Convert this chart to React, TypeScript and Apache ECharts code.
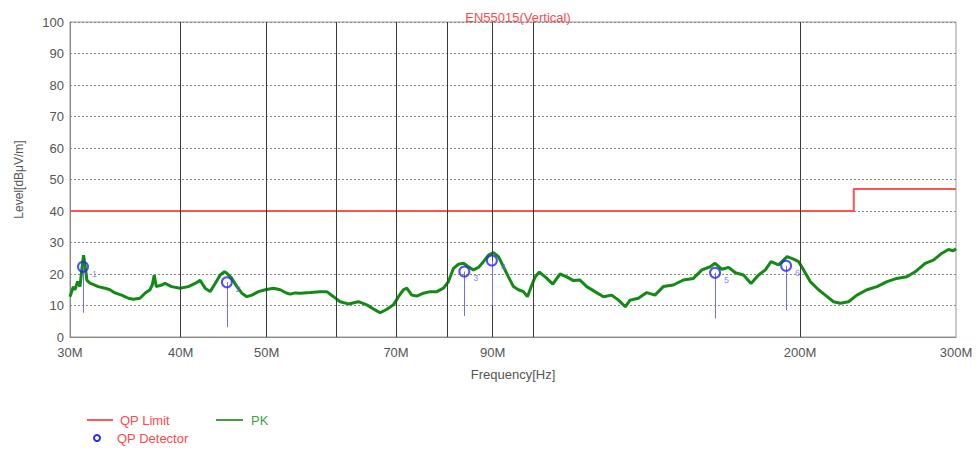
import React, { useEffect, useRef } from "react";
import * as echarts from "echarts";

const TITLE = "EN55015(Vertical)";
const X_NAME = "Frequency[Hz]";
const Y_NAME = "Level[dBμV/m]";
const X_MIN = 30;
const X_MAX = 300;
const X_LABEL_VALUES = [30, 40, 50, 70, 90, 200, 300];
const X_GRID_VALUES = [40, 50, 60, 70, 80, 90, 100, 200];

const LIMIT_FREQ = [30, 230, 230, 300];
const LIMIT_LEVEL = [40, 40, 47, 47];

const PK_FREQ = [
  30.0, 30.26, 30.39, 30.6, 30.79, 30.93, 31.08, 31.24, 31.35, 31.6, 32.0, 32.28, 32.85, 33.28, 33.72,
  34.31, 34.91, 35.36, 35.98, 36.45, 36.93, 37.15, 37.34, 37.54, 38.07, 38.4, 39.07, 39.93, 40.8, 41.53,
  42.07, 42.62, 43.18, 43.75, 44.32, 44.82, 45.1, 45.69, 46.29, 46.89, 47.5, 48.13, 48.96, 49.82, 50.91,
  51.8, 52.72, 53.17, 53.87, 54.57, 55.99, 57.47, 58.48, 59.5, 60.53, 61.85, 63.48, 64.88, 66.3, 67.17,
  68.35, 69.53, 70.44, 71.36, 71.99, 72.93, 73.89, 75.17, 76.49, 77.84, 79.18, 80.22, 81.27, 82.33, 83.41,
  84.5, 85.6, 86.72, 87.86, 89.01, 90.17, 91.35, 92.54, 93.75, 94.98, 96.22, 97.47, 98.49, 99.62, 100.5,
  101.6, 103.6, 105.2, 107.2, 109.1, 111.0, 112.9, 114.9, 117.4, 120.0, 122.6, 124.8, 127.0, 128.6, 131.4,
  134.3, 137.2, 140.2, 143.9, 147.7, 151.6, 155.0, 158.4, 160.4, 163.3, 166.1, 169.1, 172.7, 176.1, 179.6,
  182.8, 185.5, 189.2, 193.4, 196.7, 199.3, 201.9, 205.4, 209.9, 213.6, 218.2, 222.1, 226.9, 231.9, 238.0,
  244.3, 250.8, 257.2, 264.0, 269.8, 276.9, 282.9, 289.2, 294.2, 297.9, 300.0,
];
const PK_LEVEL = [
  12.8, 16, 15, 17.6, 16, 21.3, 26, 21.3, 18, 17.1, 16.5, 16, 15.5, 15, 14,
  13.3, 12.3, 12, 12.3, 13.9, 15, 16.5, 19.7, 16, 16.5, 17, 16, 15.5, 16, 17,
  18, 15.5, 14.4, 17, 19.7, 20.7, 20.2, 18.6, 16, 13.9, 12.8, 13.3, 14.4, 15, 15.5,
  15, 13.9, 13.6, 14.0, 13.9, 14.1, 14.4, 14.4, 12.8, 11.2, 10.5, 11.2, 10.2, 8.6, 7.7,
  8.8, 10.2, 12.8, 15, 15.5, 13.3, 13, 13.9, 14.4, 14.4, 15.5, 17.6, 21.8, 23.1, 23.4,
  22.3, 21.3, 22.1, 23.9, 26, 26.8, 25.5, 22.3, 19.1, 16, 15, 14.4, 12.8, 16.5, 19.1,
  20.6, 18.6, 16.8, 20, 19.1, 17.9, 18.1, 16, 14.4, 12.8, 13.3, 11.7, 9.6, 11.7, 12.3,
  14.1, 13.3, 16, 16.5, 18.1, 18.6, 21.3, 22.3, 23.4, 21.5, 22.1, 20.4, 19.7, 17, 19.7,
  21.3, 23.9, 22.9, 25.5, 24.7, 23.9, 21.3, 17.6, 15, 13.3, 11.2, 10.7, 11.2, 13.3, 15,
  16, 17.6, 18.6, 19.1, 20.7, 23.4, 24.4, 26.6, 27.8, 27.4, 28,
];

const QP_FREQ = [31.03, 45.1, 83.6, 89.8, 160.4, 192.9];
const QP_LEVEL = [22.3, 17.4, 20.8, 24.3, 20.4, 22.6];
const QP_STEM_LOW = [7.7, 3.1, 6.7, 10.0, 5.9, 8.5];

const FONT = "'Liberation Sans', Arial, sans-serif";

export default function App() {
  const ref = useRef<HTMLDivElement>(null);

  useEffect(() => {
    if (!ref.current) return;
    const chart = echarts.init(ref.current, null, { renderer: "svg" });

    // keep edge marks a hair inside the axis extent so that they are not filtered out
    const inside = (v: number) => (v <= X_MIN ? X_MIN * 1.00001 : v >= X_MAX ? X_MAX * 0.99999 : v);

    const markValues = Array.from(new Set([...X_GRID_VALUES, ...X_LABEL_VALUES])).sort((a, b) => a - b);
    const gridMarks = markValues.map((v) => ({
      xAxis: inside(v),
      lineStyle: {
        color: X_GRID_VALUES.includes(v) ? "#3a3a3a" : "rgba(0,0,0,0)",
        width: 1,
        type: "solid",
      },
      label: {
        show: X_LABEL_VALUES.includes(v),
        position: "start",
        distance: 9,
        formatter: () => `${v}M`,
        color: "#555",
        fontSize: 13,
        fontFamily: FONT,
      },
    }));

    const stemMarks = QP_FREQ.map((f, i) => [
      { coord: [f, QP_STEM_LOW[i]] },
      { coord: [f, QP_LEVEL[i]] },
    ]);

    chart.setOption({
      animation: false,
      backgroundColor: "#ffffff",
      textStyle: { fontFamily: FONT },
      title: {
        text: TITLE,
        left: 513,
        top: 6,
        textAlign: "center",
        textStyle: { color: "#ff4a4a", fontSize: 13, fontWeight: "normal", fontFamily: FONT },
      },
      grid: {
        left: 70,
        right: 22,
        top: 22,
        bottom: 114,
        show: true,
        borderColor: "#999",
        borderWidth: 1,
        backgroundColor: "transparent",
      },
      xAxis: {
        type: "log",
        logBase: 10,
        min: X_MIN,
        max: X_MAX,
        name: X_NAME,
        nameLocation: "middle",
        nameGap: 31,
        nameTextStyle: { color: "#555", fontSize: 13, fontFamily: FONT },
        axisLine: { show: true, lineStyle: { color: "#888", width: 1 } },
        axisTick: { show: false },
        axisLabel: { show: false },
        splitLine: { show: false },
        minorTick: { show: false },
        minorSplitLine: { show: false },
      },
      yAxis: {
        type: "value",
        min: 0,
        max: 100,
        interval: 10,
        name: Y_NAME,
        nameLocation: "middle",
        nameGap: 45,
        nameTextStyle: { color: "#555", fontSize: 12, fontFamily: FONT },
        axisLine: { show: true, lineStyle: { color: "#888", width: 1 } },
        axisTick: { show: false },
        axisLabel: { color: "#555", fontSize: 13, margin: 6, fontFamily: FONT },
        splitLine: { show: true, lineStyle: { color: "#8a8a8a", type: [2, 2], width: 1 } },
      },
      graphic: [
        {
          type: "line",
          shape: { x1: 87, y1: 420, x2: 113, y2: 420 },
          style: { stroke: "#ff5a5a", lineWidth: 2 },
        },
        {
          type: "text",
          x: 120,
          y: 420,
          style: { text: "QP Limit", fill: "#ff4a4a", fontSize: 13, fontFamily: FONT, verticalAlign: "middle" },
        },
        {
          type: "line",
          shape: { x1: 216, y1: 420, x2: 243, y2: 420 },
          style: { stroke: "#3f9f3f", lineWidth: 2 },
        },
        {
          type: "text",
          x: 251,
          y: 420,
          style: { text: "PK", fill: "#3f9f3f", fontSize: 13, fontFamily: FONT, verticalAlign: "middle" },
        },
        {
          type: "circle",
          shape: { cx: 97, cy: 438, r: 3 },
          style: { stroke: "#2b2bff", lineWidth: 2, fill: "none" },
        },
        {
          type: "text",
          x: 117,
          y: 438,
          style: { text: "QP Detector", fill: "#ff4a4a", fontSize: 13, fontFamily: FONT, verticalAlign: "middle" },
        },
      ],
      series: [
        {
          name: "QP Limit",
          type: "line",
          data: LIMIT_FREQ.map((f, i) => [f, LIMIT_LEVEL[i]]),
          symbol: "none",
          lineStyle: { color: "#ff5252", width: 2 },
          z: 2,
          markLine: {
            silent: true,
            symbol: ["none", "none"],
            animation: false,
            data: gridMarks,
          },
        },
        {
          name: "PK",
          type: "line",
          data: PK_FREQ.map((f, i) => [f, PK_LEVEL[i]]),
          symbol: "none",
          lineStyle: { color: "#138a13", width: 3 },
          z: 3,
        },
        {
          name: "QP Detector",
          type: "scatter",
          data: QP_FREQ.map((f, i) => [f, QP_LEVEL[i]]),
          symbol: "circle",
          symbolSize: 10,
          itemStyle: { color: "rgba(255,255,255,0)", borderColor: "#2424ff", borderWidth: 2 },
          label: {
            show: true,
            position: "right",
            distance: 3,
            offset: [0, 7],
            formatter: (p: any) => `${p.dataIndex + 1}`,
            color: "#6a6aff",
            fontSize: 9,
            fontFamily: FONT,
          },
          z: 5,
          markLine: {
            silent: true,
            symbol: ["none", "none"],
            animation: false,
            label: { show: false },
            lineStyle: { color: "#6f6fff", width: 1, type: "solid" },
            data: stemMarks,
          },
        },
      ],
    });

    return () => chart.dispose();
  }, []);

  return (
    <div
      ref={ref}
      style={{ position: "fixed", left: 0, top: 0, width: 978, height: 451, background: "#fff" }}
    />
  );
}
